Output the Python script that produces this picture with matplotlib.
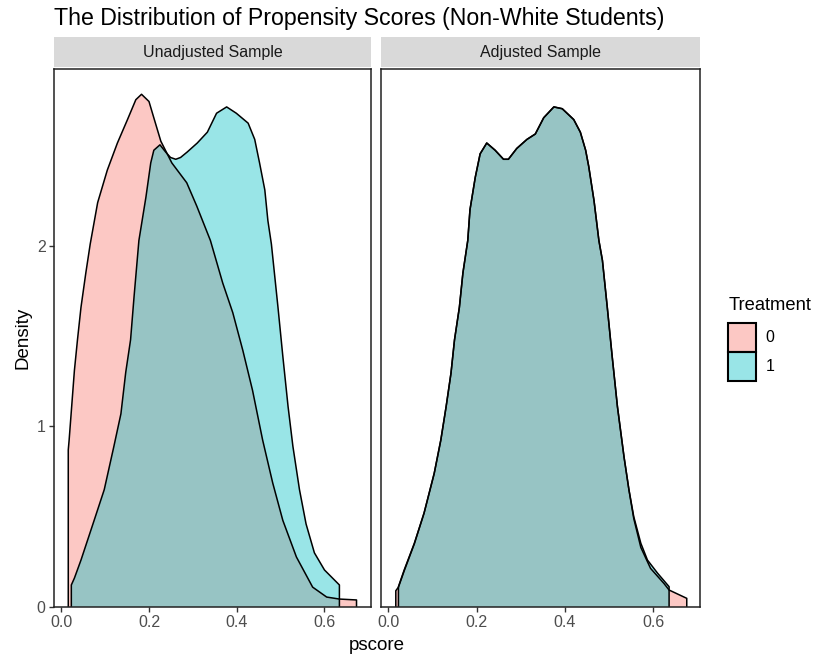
import numpy as np
import matplotlib.pyplot as plt
from matplotlib.patches import Patch

plt.rcParams['font.family'] = ['Liberation Sans', 'DejaVu Sans']

# density of pscore, unadjusted sample
un0_x = [0.016, 0.016, 0.018, 0.030, 0.037, 0.045, 0.056, 0.066, 0.083, 0.105, 0.128, 0.151, 0.170,
         0.183, 0.200, 0.211, 0.227, 0.252, 0.286, 0.309, 0.340, 0.368, 0.391, 0.414, 0.436,
         0.459, 0.482, 0.505, 0.536, 0.573, 0.605, 0.634, 0.673, 0.673]
un0_y = [0.0, 0.87, 0.925, 1.31, 1.48, 1.66, 1.85, 2.01, 2.24, 2.42, 2.57, 2.70, 2.81,
         2.84, 2.80, 2.71, 2.58, 2.46, 2.35, 2.22, 2.03, 1.795, 1.63, 1.42, 1.20,
         0.925, 0.687, 0.48, 0.277, 0.11, 0.055, 0.044, 0.039, 0.0]

un1_x = [0.023, 0.023, 0.030, 0.045, 0.060, 0.075, 0.098, 0.120, 0.136, 0.147, 0.158, 0.166, 0.177,
         0.193, 0.204, 0.211, 0.225, 0.238, 0.249, 0.261, 0.272, 0.287, 0.310, 0.333, 0.354,
         0.377, 0.399, 0.426, 0.441, 0.452, 0.464, 0.471, 0.479, 0.494, 0.505, 0.517, 0.528,
         0.543, 0.558, 0.577, 0.600, 0.634, 0.634]
un1_y = [0.0, 0.122, 0.16, 0.26, 0.37, 0.48, 0.65, 0.89, 1.07, 1.30, 1.48, 1.72, 2.03,
         2.27, 2.46, 2.53, 2.56, 2.52, 2.49, 2.48, 2.49, 2.52, 2.57, 2.63, 2.735,
         2.77, 2.735, 2.68, 2.59, 2.46, 2.31, 2.14, 2.01, 1.66, 1.39, 1.11, 0.89,
         0.65, 0.46, 0.30, 0.205, 0.122, 0.0]

# density of pscore, adjusted sample
ad1_x = [0.023, 0.023, 0.036, 0.059, 0.081, 0.104, 0.119, 0.131, 0.142, 0.150, 0.161, 0.169, 0.180,
         0.185, 0.197, 0.208, 0.223, 0.242, 0.261, 0.272, 0.291, 0.314, 0.333, 0.352, 0.375,
         0.394, 0.420, 0.435, 0.447, 0.454, 0.466, 0.477, 0.485, 0.496, 0.507, 0.519, 0.534,
         0.545, 0.556, 0.572, 0.587, 0.610, 0.636, 0.636]
ad1_y = [0.0, 0.1125, 0.205, 0.353, 0.52, 0.74, 0.925, 1.11, 1.295, 1.48, 1.66, 1.85, 2.03,
         2.20, 2.38, 2.51, 2.57, 2.53, 2.48, 2.48, 2.54, 2.59, 2.62, 2.71, 2.77,
         2.76, 2.70, 2.63, 2.53, 2.44, 2.25, 2.03, 1.92, 1.66, 1.39, 1.11, 0.83,
         0.65, 0.50, 0.353, 0.26, 0.187, 0.1125, 0.0]

ad0_x = [0.017, 0.017, 0.023, 0.036, 0.059, 0.081, 0.104, 0.119, 0.131, 0.142, 0.150, 0.161, 0.169, 0.180,
         0.185, 0.197, 0.208, 0.223, 0.242, 0.261, 0.272, 0.291, 0.314, 0.333, 0.352, 0.375,
         0.394, 0.420, 0.435, 0.447, 0.454, 0.466, 0.477, 0.485, 0.496, 0.507, 0.519, 0.534,
         0.545, 0.556, 0.572, 0.594, 0.6245, 0.636, 0.676, 0.676]
ad0_y = [0.0, 0.09, 0.11, 0.20, 0.35, 0.52, 0.74, 0.925, 1.11, 1.295, 1.48, 1.66, 1.85, 2.03,
         2.20, 2.38, 2.51, 2.57, 2.53, 2.48, 2.48, 2.54, 2.59, 2.62, 2.71, 2.77,
         2.76, 2.70, 2.63, 2.53, 2.44, 2.25, 2.03, 1.92, 1.66, 1.39, 1.11, 0.83,
         0.65, 0.49, 0.33, 0.214, 0.13, 0.094, 0.048, 0.0]

panels = ["Unadjusted Sample", "Adjusted Sample"]
series = [[(un0_x, un0_y), (un1_x, un1_y)], [(ad0_x, ad0_y), (ad1_x, ad1_y)]]
groups = ["0", "1"]
colors = ["#F8766D", "#00BFC4"]

W, H = 817, 658
fig = plt.figure(figsize=(W / 100, H / 100), dpi=100)

def box(x0, y0, x1, y1):
    return [x0 / W, 1 - y1 / H, (x1 - x0) / W, (y1 - y0) / H]

spots = [(54, 371), (381, 700)]
for i, (name, data) in enumerate(zip(panels, series)):
    x0, x1 = spots[i]
    ax = fig.add_axes(box(x0, 69, x1, 607))
    for (xs, ys), c in zip(data, colors):
        ax.fill(xs, ys, facecolor=c, alpha=0.4, edgecolor='none')
        ax.plot(xs, ys, color='black', lw=1.1, solid_joinstyle='round')
    ax.set_xlim(-0.0165, 0.706)
    ax.set_ylim(0, 2.98)
    ax.set_xticks([0.0, 0.2, 0.4, 0.6])
    ax.set_xticklabels(["0.0", "0.2", "0.4", "0.6"])
    ax.set_yticks([0, 1, 2])
    for s in ax.spines.values():
        s.set_color('#222222')
        s.set_linewidth(1.1)
    ax.tick_params(colors='#333333', labelcolor='#4D4D4D', labelsize=11.5, length=3.5, width=1.0, pad=2.5)
    if i == 0:
        ax.set_ylabel("Density", fontsize=13.5, labelpad=4)
    else:
        ax.tick_params(axis='y', left=False, labelleft=False)

    sx = fig.add_axes(box(x0, 37, x1, 67))
    sx.set_facecolor('#D9D9D9')
    sx.set_xticks([])
    sx.set_yticks([])
    for s in sx.spines.values():
        s.set_visible(False)
    sx.text(0.5, 0.5, name, ha='center', va='center', fontsize=11.5, color='#1A1A1A',
            transform=sx.transAxes)

fig.text(377 / W, 1 - 646 / H, "pscore", ha='center', va='center', fontsize=13.5)
fig.text(54 / W, 1 - 18 / H, "The Distribution of Propensity Scores (Non-White Students)",
         ha='left', va='center', fontsize=16.7)

handles = [Patch(facecolor=c, alpha=0.4, edgecolor='black', lw=1.5) for c in colors]
leg = fig.legend(handles, groups, title="Treatment", loc='upper left',
                 bbox_to_anchor=(717 / W, 1 - 286 / H), frameon=False,
                 fontsize=11.5, title_fontsize=13.2, handlelength=1.75, handleheight=2.42,
                 labelspacing=0.0, handletextpad=0.6, borderpad=0.2)
leg._legend_box.align = "left"
leg._legend_box.sep = 6
for h in leg.legend_handles:
    h.set_edgecolor('black')
    h.set_alpha(None)
    h.set_facecolor(plt.matplotlib.colors.to_rgba(h.get_facecolor(), 0.4))

fig.savefig("out.png", dpi=100)
